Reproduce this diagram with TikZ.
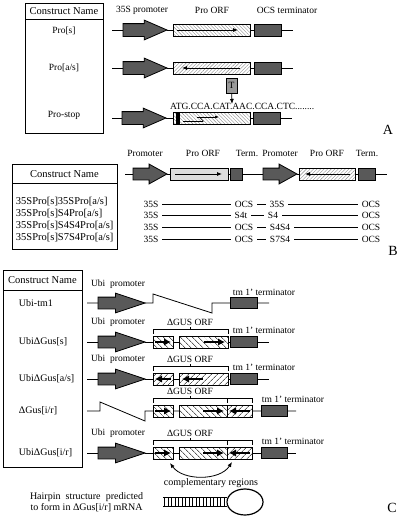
\documentclass[tikz,border=0pt]{standalone}
\usepackage{fontspec}
\setmainfont{Liberation Serif}
\usetikzlibrary{shapes.arrows,arrows.meta,patterns.meta}

\begin{document}
\begin{tikzpicture}[x=1pt, y=-1pt, line width=0.8pt]
\tikzset{ >={Latex[length=5pt,width=4pt]}, inner sep=0pt, outer sep=0pt,
  every node/.append style={font=\fontsize{9.5}{11}\selectfont},
  hd/.style={font=\fontsize{10.5}{12}\selectfont},
  nmb/.style={anchor=west, font=\fontsize{10.5}{12}\selectfont},
  nmc/.style={anchor=west, font=\fontsize{10}{12}\selectfont},
  pnl/.style={font=\fontsize{14}{16}\selectfont},
  rowlbl/.style={inner xsep=4pt},
  prom/.style={single arrow, draw, fill=black!65, anchor=tail, inner xsep=0pt, inner ysep=6pt,
    single arrow head extend=3.5pt, minimum height=44pt, single arrow tip angle=47},
  promb/.style={prom, inner ysep=5.5pt, single arrow head extend=4pt, minimum height=34pt, single arrow tip angle=58},
  promc/.style={prom, inner ysep=5.5pt, single arrow head extend=4pt, minimum height=47pt, single arrow tip angle=37},
  term/.style={draw, fill=black!65, anchor=west, minimum height=12pt},
  orfs/.style={draw, anchor=west, minimum height=12pt, preaction={fill=white},
    pattern={Lines[angle=-45,distance=2.5pt,line width=0.4pt]}, pattern color=black!45},
  orfa/.style={orfs, pattern={Lines[angle=45,distance=2.5pt,line width=0.4pt]}},
  orfd/.style={orfs, preaction={fill=black!10}, pattern={Dots[distance=2pt,radius=0.4pt]}},
  gs/.style={orfs, pattern={Lines[angle=-45,distance=4pt,line width=0.6pt]}, pattern color=black},
  ga/.style={gs, pattern={Lines[angle=45,distance=4pt,line width=0.6pt]}},
  garr/.style={line width=1.8pt, -{Latex[length=7pt,width=7.5pt]}},
  tbox/.style={draw, fill=black!40, minimum width=11pt, minimum height=15pt},
}
\useasboundingbox (0,0) rectangle (400,525);

% A
\draw (25,3) rectangle (103,133);
\draw (25,19) -- (103,19);
\node[hd] (nameA) at (64,11) {Construct Name};
\node (a1n) at (64,31) {Pro[s]};
\node (a2n) at (64,68) {Pro[a/s]};
\node (a3n) at (64,115) {Pro-stop};

\node (lpA) at (142,10) {35S promoter};
\node (loA) at (212,10) {Pro ORF};
\node (ltA) at (287,10) {OCS terminator};

\coordinate (a1s) at (112,30);
\coordinate (a1e) at (293,30);
\node[prom] (a1p) at (123,30) {};
\node[orfs, minimum width=77pt] (a1o) at (173,30) {};
\node[term, minimum width=27pt] (a1t) at (254,30) {};
\draw (a1s) -- (a1p.tail) (a1p.tip) -- (a1o.west) (a1o.east) -- (a1t.west) (a1t.east) -- (a1e);
\draw[->] ([xshift=4pt]a1o.west) -- ([xshift=-12pt]a1o.east);

\coordinate (a2s) at (112,68);
\coordinate (a2e) at (293,68);
\node[prom] (a2p) at (123,68) {};
\node[orfa, minimum width=77pt] (a2o) at (173,68) {};
\node[term, minimum width=27pt] (a2t) at (254,68) {};
\draw (a2s) -- (a2p.tail) (a2p.tip) -- (a2o.west) (a2o.east) -- (a2t.west) (a2t.east) -- (a2e);
\draw[->] ([xshift=-10pt]a2o.east) -- ([xshift=9pt]a2o.west);

\node[tbox] (tA) at (231.5,85.5) {T};
\node[anchor=west] (seqA) at (170,106) {ATG.CCA.CAT.AAC.CCA.CTC........};
\coordinate (tpA) at (232,104);
\draw[->] (tA) -- (tpA);

\coordinate (a3s) at (112,118);
\coordinate (a3e) at (292,118);
\node[prom] (a3p) at (122,118) {};
\node[orfs, minimum width=77pt] (a3o) at (173,118) {};
\node[term, minimum width=27pt] (a3t) at (253,118) {};
\draw (a3s) -- (a3p.tail) (a3p.tip) -- (a3o.west) (a3o.east) -- (a3t.west) (a3t.east) -- (a3e);
\fill (176,112) rectangle (180,124);
\draw[-{Straight Barb[left,length=4pt]}, line width=0.6pt] (183,121) -- (204,121);
\draw[-{Latex[length=4pt,width=3pt]}, line width=0.6pt] (197,117) -- (219,117);

\node[pnl] (pA) at (388,130) {A};

% B
\draw (12,164) rectangle (117,249);
\draw (12,183) -- (117,183);
\node[hd] (nameB) at (64.5,174) {Construct Name};
\node[nmb] (b1n) at (16,202) {35SPro[s]35SPro[a/s]};
\node[nmb] (b2n) at (16,214) {35SPro[s]S4Pro[a/s]};
\node[nmb] (b3n) at (16,226) {35SPro[s]S4S4Pro[a/s]};
\node[nmb] (b4n) at (16,238) {35SPro[s]S7S4Pro[a/s]};

\node (lpB) at (145,153) {Promoter};
\node (loB) at (203,153) {Pro ORF};
\node (ltB) at (247,153) {Term.};
\node (lqB) at (280,153) {Promoter};
\node (lrB) at (327,153) {Pro ORF};
\node (luB) at (367,153) {Term.};

\coordinate (bs) at (125,174);
\coordinate (be) at (387,174);
\node[promb] (b1p) at (133,174) {};
\node[orfd, minimum width=58pt] (b1o) at (170,174) {};
\node[term, minimum width=12pt] (b1t) at (230,174) {};
\node[promb] (b2p) at (263,174) {};
\node[orfa, minimum width=56pt] (b2o) at (299,174) {};
\node[term, minimum width=17pt] (b2t) at (358,174) {};
\draw (bs) -- (b1p.tail) (b1p.tip) -- (b1o.west) (b1o.east) -- (b1t.west) (b1t.east) -- (b2p.tail)
  (b2p.tip) -- (b2o.west) (b2o.east) -- (b2t.west) (b2t.east) -- (be);
\draw[->] ([xshift=5pt]b1o.west) -- ([xshift=-6pt]b1o.east);
\draw[->] ([xshift=-5pt]b2o.east) -- ([xshift=6pt]b2o.west);

\node[rowlbl] (r1a) at (151,204) {35S};
\node[rowlbl] (r1b) at (244,204) {OCS};
\node[rowlbl] (r1c) at (277,204) {35S};
\node[rowlbl] (r1d) at (371,204) {OCS};
\draw (r1a) -- (r1b) -- (r1c) -- (r1d);

\node[rowlbl] (r2a) at (151,215.5) {35S};
\node[rowlbl] (r2b) at (241,215.5) {S4t};
\node[rowlbl] (r2c) at (273,215.5) {S4};
\node[rowlbl] (r2d) at (371,215.5) {OCS};
\draw (r2a) -- (r2b) -- (r2c) -- (r2d);

\node[rowlbl] (r3a) at (151,227) {35S};
\node[rowlbl] (r3b) at (244,227) {OCS};
\node[rowlbl] (r3c) at (280,227) {S4S4};
\node[rowlbl] (r3d) at (371,227) {OCS};
\draw (r3a) -- (r3b) -- (r3c) -- (r3d);

\node[rowlbl] (r4a) at (151,239) {35S};
\node[rowlbl] (r4b) at (244,239) {OCS};
\node[rowlbl] (r4c) at (280,239) {S7S4};
\node[rowlbl] (r4d) at (371,239) {OCS};
\draw (r4a) -- (r4b) -- (r4c) -- (r4d);

\node[pnl] (pB) at (393,251) {B};

% C
\draw (3,270) rectangle (82,467);
\draw (3,290) -- (82,290);
\node[hd] (nameC) at (42.5,280) {Construct Name};
\node[nmc] (c1n) at (19,303) {Ubi-tm1};
\node[nmc] (c2n) at (19,342) {UbiΔGus[s]};
\node[nmc] (c3n) at (19,379) {UbiΔGus[a/s]};
\node[nmc] (c4n) at (19,411) {ΔGus[i/r]};
\node[nmc] (c5n) at (19,453) {UbiΔGus[i/r]};

\node (c1u) at (118,284) {Ubi~~promoter};
\node (c1m) at (264,292) {tm 1’ terminator};
\coordinate (c1s) at (87,303);
\coordinate (c1e) at (269,303);
\node[promc] (c1p) at (98,303) {};
\node[term, minimum width=27pt, minimum height=11pt] (c1t) at (230,303) {};
\draw (c1s) -- (c1p.tail) (c1p.tip) -- (153,303) -- (153,294) -- (212,313) -- (212,303) -- (c1t.west)
  (c1t.east) -- (c1e);

\node (c2u) at (118,322.5) {Ubi~~promoter};
\node (c2d) at (190,322) {ΔGUS ORF};
\node (c2m) at (264,330.5) {tm 1’ terminator};
\coordinate (c2s) at (87,342);
\coordinate (c2e) at (269,342);
\node[promc] (c2p) at (98,342) {};
\node[gs, minimum width=20pt] (c2g) at (153,342) {};
\node[gs, minimum width=49pt] (c2h) at (179,342) {};
\node[term, minimum width=27pt, minimum height=11pt] (c2t) at (230,342) {};
\draw (c2s) -- (c2p.tail) (c2p.tip) -- (c2g.west) (c2g.east) -- (c2h.west) (c2h.east) -- (c2t.west)
  (c2t.east) -- (c2e);
\draw[garr] ([xshift=2pt]c2g.west) -- ([xshift=-2pt]c2g.east);
\draw[garr] ([xshift=-24pt]c2h.east) -- ([xshift=-3pt]c2h.east);
\draw (153,333.5) |- (228,329.5) -- (228,333.5) (190,329.5) -- (190,326.5);

\node (c3u) at (118,359.5) {Ubi~~promoter};
\node (c3d) at (190,359) {ΔGUS ORF};
\node (c3m) at (264,367.5) {tm 1’ terminator};
\coordinate (c3s) at (87,379);
\coordinate (c3e) at (269,379);
\node[promc] (c3p) at (98,379) {};
\node[ga, minimum width=20pt] (c3g) at (153,379) {};
\node[ga, minimum width=49pt] (c3h) at (179,379) {};
\node[term, minimum width=27pt, minimum height=11pt] (c3t) at (230,379) {};
\draw (c3s) -- (c3p.tail) (c3p.tip) -- (c3g.west) (c3g.east) -- (c3h.west) (c3h.east) -- (c3t.west)
  (c3t.east) -- (c3e);
\draw[garr] ([xshift=-2pt]c3g.east) -- ([xshift=2pt]c3g.west);
\draw[garr] ([xshift=24pt]c3h.west) -- ([xshift=3pt]c3h.west);
\draw (153,370.5) |- (228,366.5) -- (228,370.5) (190,366.5) -- (190,363.5);

\node (c4d) at (190,391) {ΔGUS ORF};
\node (c4m) at (293,399.5) {tm 1’ terminator};
\coordinate (c4s) at (87,411);
\coordinate (c4e) at (296,411);
\node[gs, minimum width=20pt] (c4g) at (153,411) {};
\node[gs, minimum width=48pt] (c4h) at (179,411) {};
\node[ga, minimum width=25pt] (c4k) at (227,411) {};
\node[term, minimum width=26pt, minimum height=11pt] (c4t) at (261,411) {};
\draw (c4s) -- (100,411) -- (100,402) -- (145,421) -- (145,411) -- (c4g.west) (c4g.east) -- (c4h.west)
  (c4k.east) -- (c4t.west) (c4t.east) -- (c4e);
\draw[garr] ([xshift=2pt]c4g.west) -- ([xshift=-2pt]c4g.east);
\draw[garr] ([xshift=-24pt]c4h.east) -- ([xshift=-3pt]c4h.east);
\draw[garr] ([xshift=-2pt]c4k.east) -- ([xshift=2pt]c4k.west);
\draw (153,402.5) |- (252,398.5) -- (252,402.5) (227,398.5) -- (227,402.5) (190,398.5) -- (190,395.5);

\node (c5u) at (118,433.5) {Ubi~~promoter};
\node (c5d) at (190,433) {ΔGUS ORF};
\node (c5m) at (293,441.5) {tm 1’ terminator};
\coordinate (c5s) at (87,453);
\coordinate (c5e) at (296,453);
\node[promc] (c5p) at (98,453) {};
\node[gs, minimum width=20pt] (c5g) at (153,453) {};
\node[gs, minimum width=48pt] (c5h) at (179,453) {};
\node[ga, minimum width=25pt] (c5k) at (227,453) {};
\node[term, minimum width=26pt, minimum height=11pt] (c5t) at (261,453) {};
\draw (c5s) -- (c5p.tail) (c5p.tip) -- (c5g.west) (c5g.east) -- (c5h.west)
  (c5k.east) -- (c5t.west) (c5t.east) -- (c5e);
\draw[garr] ([xshift=2pt]c5g.west) -- ([xshift=-2pt]c5g.east);
\draw[garr] ([xshift=-24pt]c5h.east) -- ([xshift=-3pt]c5h.east);
\draw[garr] ([xshift=-2pt]c5k.east) -- ([xshift=2pt]c5k.west);
\draw (153,444.5) |- (252,440.5) -- (252,444.5) (227,440.5) -- (227,444.5) (190,440.5) -- (190,437.5);

\coordinate (cvl) at (170,463);
\coordinate (cvr) at (232,462);
\draw[<->] (cvl) .. controls (183,481) and (220,481) .. (cvr);
\node[font=\fontsize{10}{11}\selectfont] (cmp) at (211,483) {complementary regions};

\node[font=\fontsize{10}{11}\selectfont, align=center] (hpt) at (86.5,502.5)
  {\makebox[113pt][s]{Hairpin structure predicted}\\to form in ΔGus[i/r] mRNA};
\draw[line width=1pt] (163,497.5) -- (227,497.5) (163,506.5) -- (227,506.5);
\foreach \x in {164.5,168,...,225} \draw[line width=0.9pt] (\x,497.5) -- (\x,506.5);
\draw[line width=1.2pt] (245,502) ellipse [x radius=18pt, y radius=13pt];

\node[pnl] (pC) at (392,508) {C};
\end{tikzpicture}
\end{document}
